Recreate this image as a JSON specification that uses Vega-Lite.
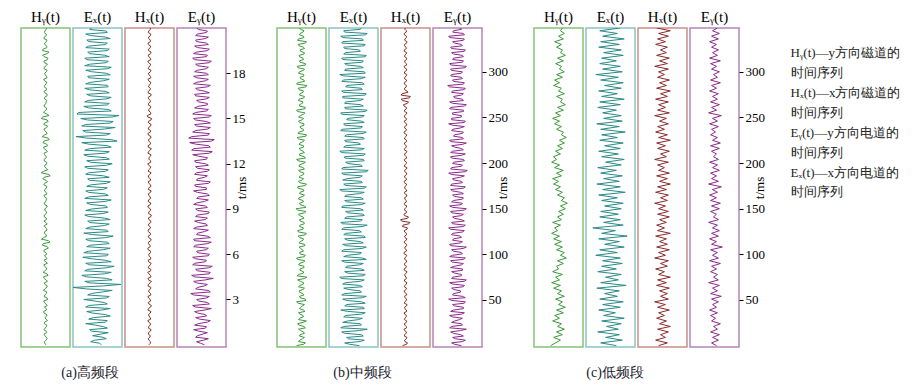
{
"$schema":"https://vega.github.io/schema/vega-lite/v6.json",
"padding":{"left":20,"top":9,"right":5,"bottom":5},
"background":"white",
"config":{"view":{"strokeWidth":1.5},"title":{"font":"Liberation Serif","fontSize":15,"fontWeight":"normal","color":"#000","offset":3}},
"data":{"name":"d"},
"datasets":{
"leg":[
{"r":1,"txt":"Hᵧ(t)—y方向磁道的"},
{"r":2,"txt":"　时间序列"},
{"r":3,"txt":"Hₓ(t)—x方向磁道的"},
{"r":4,"txt":"　时间序列"},
{"r":5,"txt":"Eᵧ(t)—y方向电道的"},
{"r":6,"txt":"　时间序列"},
{"r":7,"txt":"Eₓ(t)—x方向电道的"},
{"r":8,"txt":"　时间序列"}
],
"d":[
{"g":"a","t":0,"Hy":0.3,"Ex":4,"Hx":-0.5,"Ey":3},
{"g":"a","t":0.2,"Hy":-1.1,"Ex":-7,"Hx":1.0,"Ey":-5},
{"g":"a","t":0.4,"Hy":1.6,"Ex":9,"Hx":-1.4,"Ey":7},
{"g":"a","t":0.6,"Hy":-0.8,"Ex":-5,"Hx":0.8,"Ey":-4},
{"g":"a","t":0.8,"Hy":1.2,"Ex":11,"Hx":-1.1,"Ey":6},
{"g":"a","t":1.0,"Hy":-1.7,"Ex":-8,"Hx":1.6,"Ey":-8},
{"g":"a","t":1.2,"Hy":0.9,"Ex":6,"Hx":-0.7,"Ey":5},
{"g":"a","t":1.4,"Hy":-1.3,"Ex":-12,"Hx":1.2,"Ey":-3},
{"g":"a","t":1.6,"Hy":2.0,"Ex":10,"Hx":-1.8,"Ey":9},
{"g":"a","t":1.8,"Hy":-0.6,"Ex":-4,"Hx":0.6,"Ey":-6},
{"g":"a","t":2.0,"Hy":1.4,"Ex":8,"Hx":-1.0,"Ey":4},
{"g":"a","t":2.2,"Hy":-2.2,"Ex":-11,"Hx":1.5,"Ey":-7},
{"g":"a","t":2.4,"Hy":0.7,"Ex":13,"Hx":-0.9,"Ey":10},
{"g":"a","t":2.6,"Hy":1.8,"Ex":-9,"Hx":1.9,"Ey":-9},
{"g":"a","t":2.8,"Hy":-1.0,"Ex":7,"Hx":-1.3,"Ey":6},
{"g":"a","t":3.0,"Hy":2.3,"Ex":-14,"Hx":0.7,"Ey":-5},
{"g":"a","t":3.2,"Hy":-1.5,"Ex":12,"Hx":-1.6,"Ey":8},
{"g":"a","t":3.4,"Hy":0.8,"Ex":-6,"Hx":1.1,"Ey":-11},
{"g":"a","t":3.6,"Hy":-2.0,"Ex":15,"Hx":-0.8,"Ey":7},
{"g":"a","t":3.8,"Hy":1.1,"Ex":-25,"Hx":1.4,"Ey":-4},
{"g":"a","t":4.0,"Hy":-0.6,"Ex":24,"Hx":-1.2,"Ey":6},
{"g":"a","t":4.2,"Hy":1.9,"Ex":-13,"Hx":2.0,"Ey":-8},
{"g":"a","t":4.4,"Hy":-1.4,"Ex":9,"Hx":-1.5,"Ey":12},
{"g":"a","t":4.6,"Hy":2.6,"Ex":-16,"Hx":0.9,"Ey":-10},
{"g":"a","t":4.8,"Hy":-2.4,"Ex":14,"Hx":-1.9,"Ey":9},
{"g":"a","t":5.0,"Hy":1.3,"Ex":-10,"Hx":1.3,"Ey":-6},
{"g":"a","t":5.2,"Hy":-0.9,"Ex":17,"Hx":-0.6,"Ey":11},
{"g":"a","t":5.4,"Hy":2.0,"Ex":-12,"Hx":1.7,"Ey":-7},
{"g":"a","t":5.6,"Hy":-1.6,"Ex":8,"Hx":-1.4,"Ey":5},
{"g":"a","t":5.8,"Hy":0.5,"Ex":-15,"Hx":1.0,"Ey":-9},
{"g":"a","t":6.0,"Hy":1.2,"Ex":11,"Hx":-0.8,"Ey":8},
{"g":"a","t":6.2,"Hy":-1.9,"Ex":-9,"Hx":1.2,"Ey":-5},
{"g":"a","t":6.4,"Hy":2.9,"Ex":13,"Hx":-1.7,"Ey":7},
{"g":"a","t":6.6,"Hy":-3.2,"Ex":-7,"Hx":0.5,"Ey":-6},
{"g":"a","t":6.8,"Hy":4.6,"Ex":10,"Hx":-1.1,"Ey":10},
{"g":"a","t":7.0,"Hy":-4.1,"Ex":-12,"Hx":1.6,"Ey":-8},
{"g":"a","t":7.2,"Hy":1.0,"Ex":16,"Hx":-1.3,"Ey":6},
{"g":"a","t":7.4,"Hy":-1.2,"Ex":-14,"Hx":0.8,"Ey":-4},
{"g":"a","t":7.6,"Hy":1.5,"Ex":9,"Hx":-1.5,"Ey":7},
{"g":"a","t":7.8,"Hy":-0.4,"Ex":-8,"Hx":1.1,"Ey":-5},
{"g":"a","t":8.0,"Hy":1.8,"Ex":12,"Hx":-0.9,"Ey":5},
{"g":"a","t":8.2,"Hy":-1.6,"Ex":-10,"Hx":1.4,"Ey":-7},
{"g":"a","t":8.4,"Hy":0.7,"Ex":7,"Hx":-1.2,"Ey":6},
{"g":"a","t":8.6,"Hy":-1.1,"Ex":-13,"Hx":1.8,"Ey":-4},
{"g":"a","t":8.8,"Hy":1.3,"Ex":11,"Hx":-0.7,"Ey":8},
{"g":"a","t":9.0,"Hy":-0.8,"Ex":-6,"Hx":1.0,"Ey":-6},
{"g":"a","t":9.2,"Hy":1.7,"Ex":9,"Hx":-1.6,"Ey":4},
{"g":"a","t":9.4,"Hy":-1.4,"Ex":-11,"Hx":1.3,"Ey":-5},
{"g":"a","t":9.6,"Hy":0.6,"Ex":14,"Hx":-1.0,"Ey":7},
{"g":"a","t":9.8,"Hy":-0.9,"Ex":-9,"Hx":0.6,"Ey":-3},
{"g":"a","t":10.0,"Hy":1.5,"Ex":8,"Hx":-1.3,"Ey":6},
{"g":"a","t":10.2,"Hy":-1.2,"Ex":-12,"Hx":1.7,"Ey":-8},
{"g":"a","t":10.4,"Hy":0.9,"Ex":10,"Hx":-0.8,"Ey":5},
{"g":"a","t":10.6,"Hy":-1.7,"Ex":-7,"Hx":1.1,"Ey":-7},
{"g":"a","t":10.8,"Hy":2.1,"Ex":13,"Hx":-1.5,"Ey":9},
{"g":"a","t":11.0,"Hy":-2.8,"Ex":-10,"Hx":0.9,"Ey":-4},
{"g":"a","t":11.2,"Hy":4.8,"Ex":6,"Hx":-1.2,"Ey":6},
{"g":"a","t":11.4,"Hy":-4.4,"Ex":-9,"Hx":1.6,"Ey":-5},
{"g":"a","t":11.6,"Hy":2.2,"Ex":11,"Hx":-0.7,"Ey":8},
{"g":"a","t":11.8,"Hy":-1.0,"Ex":-13,"Hx":1.2,"Ey":-6},
{"g":"a","t":12.0,"Hy":1.4,"Ex":15,"Hx":-1.8,"Ey":4},
{"g":"a","t":12.2,"Hy":-1.5,"Ex":-11,"Hx":1.0,"Ey":-7},
{"g":"a","t":12.4,"Hy":0.8,"Ex":9,"Hx":-0.6,"Ey":6},
{"g":"a","t":12.6,"Hy":-1.0,"Ex":-14,"Hx":1.4,"Ey":-9},
{"g":"a","t":12.8,"Hy":1.9,"Ex":12,"Hx":-1.1,"Ey":11},
{"g":"a","t":13.0,"Hy":-1.3,"Ex":-8,"Hx":1.9,"Ey":-8},
{"g":"a","t":13.2,"Hy":2.4,"Ex":10,"Hx":-1.4,"Ey":7},
{"g":"a","t":13.4,"Hy":-2.6,"Ex":-16,"Hx":0.8,"Ey":-12},
{"g":"a","t":13.6,"Hy":3.9,"Ex":14,"Hx":-1.0,"Ey":13},
{"g":"a","t":13.8,"Hy":-3.3,"Ex":-22,"Hx":1.5,"Ey":-10},
{"g":"a","t":14.0,"Hy":1.6,"Ex":13,"Hx":-1.7,"Ey":8},
{"g":"a","t":14.2,"Hy":-0.9,"Ex":-15,"Hx":1.2,"Ey":-6},
{"g":"a","t":14.4,"Hy":1.2,"Ex":18,"Hx":-0.9,"Ey":9},
{"g":"a","t":14.6,"Hy":-1.8,"Ex":-12,"Hx":1.6,"Ey":-7},
{"g":"a","t":14.8,"Hy":2.7,"Ex":16,"Hx":-1.3,"Ey":5},
{"g":"a","t":15.0,"Hy":-4.3,"Ex":-17,"Hx":2.2,"Ey":-8},
{"g":"a","t":15.2,"Hy":3.6,"Ex":22,"Hx":-2.0,"Ey":10},
{"g":"a","t":15.4,"Hy":-2.1,"Ex":-19,"Hx":1.1,"Ey":-6},
{"g":"a","t":15.6,"Hy":1.0,"Ex":11,"Hx":-0.8,"Ey":7},
{"g":"a","t":15.8,"Hy":-1.4,"Ex":-14,"Hx":1.3,"Ey":-4},
{"g":"a","t":16.0,"Hy":0.6,"Ex":12,"Hx":-1.0,"Ey":6},
{"g":"a","t":16.2,"Hy":1.3,"Ex":-9,"Hx":0.7,"Ey":-5},
{"g":"a","t":16.4,"Hy":-1.0,"Ex":14,"Hx":-1.4,"Ey":8},
{"g":"a","t":16.6,"Hy":1.7,"Ex":-11,"Hx":1.8,"Ey":-7},
{"g":"a","t":16.8,"Hy":-1.5,"Ex":8,"Hx":-1.2,"Ey":4},
{"g":"a","t":17.0,"Hy":0.9,"Ex":-13,"Hx":1.0,"Ey":-6},
{"g":"a","t":17.2,"Hy":-0.7,"Ex":10,"Hx":-0.5,"Ey":9},
{"g":"a","t":17.4,"Hy":1.4,"Ex":-7,"Hx":1.3,"Ey":-5},
{"g":"a","t":17.6,"Hy":-1.9,"Ex":12,"Hx":-1.6,"Ey":7},
{"g":"a","t":17.8,"Hy":1.1,"Ex":-10,"Hx":0.9,"Ey":-8},
{"g":"a","t":18.0,"Hy":-0.8,"Ex":9,"Hx":-1.1,"Ey":5},
{"g":"a","t":18.2,"Hy":1.6,"Ex":-12,"Hx":1.5,"Ey":-4},
{"g":"a","t":18.4,"Hy":-1.2,"Ex":14,"Hx":-0.8,"Ey":7},
{"g":"a","t":18.6,"Hy":2.0,"Ex":-8,"Hx":1.2,"Ey":-6},
{"g":"a","t":18.8,"Hy":-1.7,"Ex":11,"Hx":-1.7,"Ey":10},
{"g":"a","t":19.0,"Hy":2.5,"Ex":-13,"Hx":1.0,"Ey":-9},
{"g":"a","t":19.2,"Hy":-2.9,"Ex":7,"Hx":-1.3,"Ey":6},
{"g":"a","t":19.4,"Hy":3.6,"Ex":-10,"Hx":1.6,"Ey":-5},
{"g":"a","t":19.6,"Hy":-2.4,"Ex":12,"Hx":-0.9,"Ey":8},
{"g":"a","t":19.8,"Hy":1.2,"Ex":-9,"Hx":1.1,"Ey":-7},
{"g":"a","t":20.0,"Hy":-1.0,"Ex":10,"Hx":-1.4,"Ey":5},
{"g":"a","t":20.2,"Hy":1.5,"Ex":-11,"Hx":0.8,"Ey":-6},
{"g":"a","t":20.4,"Hy":-1.3,"Ex":8,"Hx":-1.0,"Ey":7},
{"g":"a","t":20.6,"Hy":0.8,"Ex":-12,"Hx":1.3,"Ey":-4},
{"g":"a","t":20.8,"Hy":-0.6,"Ex":9,"Hx":-0.7,"Ey":6},
{"g":"a","t":21.0,"Hy":1.1,"Ex":-6,"Hx":0.9,"Ey":-5},
{"g":"a","t":0.1,"Hy":-0.7,"Ex":2,"Hx":0.9,"Ey":-1},
{"g":"a","t":0.3,"Hy":0.4,"Ex":-3,"Hx":-0.6,"Ey":2},
{"g":"a","t":0.5,"Hy":1.0,"Ex":5,"Hx":0.4,"Ey":-6},
{"g":"a","t":0.7,"Hy":-1.5,"Ex":3,"Hx":-1.2,"Ey":1},
{"g":"a","t":0.9,"Hy":0.6,"Ex":-6,"Hx":0.9,"Ey":-3},
{"g":"a","t":1.1,"Hy":-0.3,"Ex":10,"Hx":-1.0,"Ey":4},
{"g":"a","t":1.3,"Hy":1.4,"Ex":-2,"Hx":0.6,"Ey":-7},
{"g":"a","t":1.5,"Hy":-0.9,"Ex":8,"Hx":-0.8,"Ey":6},
{"g":"a","t":1.7,"Hy":0.5,"Ex":-9,"Hx":1.3,"Ey":-2},
{"g":"a","t":1.9,"Hy":1.2,"Ex":13,"Hx":-0.4,"Ey":5},
{"g":"a","t":2.1,"Hy":-1.4,"Ex":-5,"Hx":0.8,"Ey":-4},
{"g":"a","t":2.3,"Hy":0.8,"Ex":4,"Hx":-1.7,"Ey":3},
{"g":"a","t":2.5,"Hy":-1.1,"Ex":-12,"Hx":1.1,"Ey":-6},
{"g":"a","t":2.7,"Hy":0.3,"Ex":10,"Hx":-0.5,"Ey":8},
{"g":"a","t":2.9,"Hy":-1.8,"Ex":-3,"Hx":1.2,"Ey":-3},
{"g":"a","t":3.1,"Hy":1.6,"Ex":9,"Hx":-0.9,"Ey":5},
{"g":"a","t":3.3,"Hy":-0.5,"Ex":-10,"Hx":1.4,"Ey":-8},
{"g":"a","t":3.5,"Hy":1.3,"Ex":5,"Hx":-0.7,"Ey":9},
{"g":"a","t":3.7,"Hy":-0.8,"Ex":-11,"Hx":1.0,"Ey":-6},
{"g":"a","t":3.9,"Hy":1.9,"Ex":6,"Hx":-1.5,"Ey":3},
{"g":"a","t":4.1,"Hy":-1.2,"Ex":-8,"Hx":0.6,"Ey":-5},
{"g":"a","t":4.3,"Hy":0.7,"Ex":15,"Hx":-1.1,"Ey":4},
{"g":"a","t":4.5,"Hy":-2.0,"Ex":-11,"Hx":1.6,"Ey":-7},
{"g":"a","t":4.7,"Hy":1.5,"Ex":7,"Hx":-0.4,"Ey":8},
{"g":"a","t":4.9,"Hy":-0.6,"Ex":-13,"Hx":1.2,"Ey":-4},
{"g":"a","t":5.1,"Hy":0.9,"Ex":9,"Hx":-1.3,"Ey":7},
{"g":"a","t":5.3,"Hy":-1.7,"Ex":-8,"Hx":0.8,"Ey":-9},
{"g":"a","t":5.5,"Hy":0.4,"Ex":14,"Hx":-0.9,"Ey":4},
{"g":"a","t":5.7,"Hy":1.6,"Ex":-6,"Hx":1.5,"Ey":-6},
{"g":"a","t":5.9,"Hy":-1.1,"Ex":10,"Hx":-0.6,"Ey":7},
{"g":"a","t":6.1,"Hy":0.5,"Ex":-14,"Hx":1.0,"Ey":-4},
{"g":"a","t":6.3,"Hy":-0.9,"Ex":6,"Hx":-1.4,"Ey":5},
{"g":"a","t":6.5,"Hy":1.7,"Ex":-11,"Hx":0.7,"Ey":-8},
{"g":"a","t":6.7,"Hy":-2.4,"Ex":12,"Hx":-1.0,"Ey":6},
{"g":"a","t":6.9,"Hy":3.1,"Ex":-9,"Hx":1.3,"Ey":-7},
{"g":"a","t":7.1,"Hy":-1.9,"Ex":8,"Hx":-0.7,"Ey":9},
{"g":"a","t":7.3,"Hy":0.6,"Ex":-5,"Hx":1.1,"Ey":-5},
{"g":"a","t":7.5,"Hy":-0.8,"Ex":11,"Hx":-1.2,"Ey":3},
{"g":"a","t":7.7,"Hy":1.1,"Ex":-12,"Hx":0.5,"Ey":-8},
{"g":"a","t":7.9,"Hy":-1.3,"Ex":7,"Hx":-0.9,"Ey":6},
{"g":"a","t":8.1,"Hy":0.4,"Ex":-8,"Hx":1.2,"Ey":-3},
{"g":"a","t":8.3,"Hy":1.0,"Ex":13,"Hx":-0.6,"Ey":4},
{"g":"a","t":8.5,"Hy":-1.5,"Ex":-9,"Hx":1.5,"Ey":-6},
{"g":"a","t":8.7,"Hy":0.8,"Ex":6,"Hx":-1.0,"Ey":7},
{"g":"a","t":8.9,"Hy":-0.5,"Ex":-12,"Hx":0.8,"Ey":-4},
{"g":"a","t":9.1,"Hy":1.2,"Ex":10,"Hx":-1.2,"Ey":6},
{"g":"a","t":9.3,"Hy":-0.9,"Ex":-7,"Hx":0.9,"Ey":-8},
{"g":"a","t":9.5,"Hy":0.5,"Ex":8,"Hx":-1.4,"Ey":3},
{"g":"a","t":9.7,"Hy":1.3,"Ex":-13,"Hx":1.1,"Ey":-5},
{"g":"a","t":9.9,"Hy":-1.6,"Ex":11,"Hx":-0.5,"Ey":8},
{"g":"a","t":10.1,"Hy":0.7,"Ex":-9,"Hx":1.0,"Ey":-4},
{"g":"a","t":10.3,"Hy":-0.4,"Ex":6,"Hx":-1.1,"Ey":5},
{"g":"a","t":10.5,"Hy":1.4,"Ex":-11,"Hx":1.4,"Ey":-6},
{"g":"a","t":10.7,"Hy":-1.0,"Ex":9,"Hx":-0.7,"Ey":7},
{"g":"a","t":10.9,"Hy":0.6,"Ex":-8,"Hx":1.2,"Ey":-5},
{"g":"a","t":11.1,"Hy":-1.5,"Ex":12,"Hx":-1.0,"Ey":3},
{"g":"a","t":11.3,"Hy":2.8,"Ex":-12,"Hx":0.6,"Ey":-7},
{"g":"a","t":11.5,"Hy":-1.9,"Ex":8,"Hx":-1.3,"Ey":6},
{"g":"a","t":11.7,"Hy":0.9,"Ex":-10,"Hx":0.9,"Ey":-4},
{"g":"a","t":11.9,"Hy":-0.6,"Ex":9,"Hx":-0.8,"Ey":7},
{"g":"a","t":12.1,"Hy":1.1,"Ex":-7,"Hx":1.3,"Ey":-6},
{"g":"a","t":12.3,"Hy":-1.3,"Ex":12,"Hx":-0.5,"Ey":5},
{"g":"a","t":12.5,"Hy":0.5,"Ex":-10,"Hx":1.1,"Ey":-3},
{"g":"a","t":12.7,"Hy":-1.4,"Ex":8,"Hx":-1.6,"Ey":8},
{"g":"a","t":12.9,"Hy":0.8,"Ex":-13,"Hx":0.7,"Ey":-10},
{"g":"a","t":13.1,"Hy":-2.0,"Ex":14,"Hx":-1.2,"Ey":9},
{"g":"a","t":13.3,"Hy":1.1,"Ex":-9,"Hx":1.0,"Ey":-6},
{"g":"a","t":13.5,"Hy":-1.6,"Ex":20,"Hx":-0.6,"Ey":10},
{"g":"a","t":13.7,"Hy":2.6,"Ex":-11,"Hx":1.3,"Ey":-13},
{"g":"a","t":13.9,"Hy":-1.2,"Ex":9,"Hx":-1.1,"Ey":7},
{"g":"a","t":14.1,"Hy":0.8,"Ex":-12,"Hx":0.8,"Ey":-9},
{"g":"a","t":14.3,"Hy":-1.7,"Ex":7,"Hx":-1.3,"Ey":6},
{"g":"a","t":14.5,"Hy":2.1,"Ex":-16,"Hx":1.1,"Ey":-5},
{"g":"a","t":14.7,"Hy":-0.9,"Ex":13,"Hx":-0.7,"Ey":9},
{"g":"a","t":14.9,"Hy":1.8,"Ex":-10,"Hx":1.5,"Ey":-6},
{"g":"a","t":15.1,"Hy":-2.7,"Ex":15,"Hx":-1.8,"Ey":8},
{"g":"a","t":15.3,"Hy":1.3,"Ex":-21,"Hx":1.4,"Ey":-9},
{"g":"a","t":15.5,"Hy":-0.8,"Ex":14,"Hx":-0.6,"Ey":5},
{"g":"a","t":15.7,"Hy":1.0,"Ex":-9,"Hx":1.0,"Ey":-7},
{"g":"a","t":15.9,"Hy":-1.2,"Ex":10,"Hx":-1.2,"Ey":6},
{"g":"a","t":16.1,"Hy":0.6,"Ex":-13,"Hx":0.9,"Ey":-3},
{"g":"a","t":16.3,"Hy":-0.9,"Ex":9,"Hx":-0.8,"Ey":5},
{"g":"a","t":16.5,"Hy":1.5,"Ex":-7,"Hx":1.2,"Ey":-6},
{"g":"a","t":16.7,"Hy":-0.6,"Ex":12,"Hx":-1.5,"Ey":8},
{"g":"a","t":16.9,"Hy":1.1,"Ex":-8,"Hx":0.6,"Ey":-4},
{"g":"a","t":17.1,"Hy":-1.4,"Ex":11,"Hx":-1.0,"Ey":6},
{"g":"a","t":17.3,"Hy":0.7,"Ex":-12,"Hx":1.1,"Ey":-8},
{"g":"a","t":17.5,"Hy":-1.0,"Ex":6,"Hx":-0.9,"Ey":4},
{"g":"a","t":17.7,"Hy":1.6,"Ex":-9,"Hx":1.4,"Ey":-5},
{"g":"a","t":17.9,"Hy":-0.5,"Ex":13,"Hx":-0.6,"Ey":7},
{"g":"a","t":18.1,"Hy":0.9,"Ex":-6,"Hx":1.0,"Ey":-7},
{"g":"a","t":18.3,"Hy":-1.5,"Ex":10,"Hx":-1.3,"Ey":5},
{"g":"a","t":18.5,"Hy":0.6,"Ex":-13,"Hx":0.7,"Ey":-4},
{"g":"a","t":18.7,"Hy":-1.1,"Ex":9,"Hx":-1.0,"Ey":8},
{"g":"a","t":18.9,"Hy":1.9,"Ex":-11,"Hx":1.3,"Ey":-7},
{"g":"a","t":19.1,"Hy":-1.4,"Ex":12,"Hx":-0.8,"Ey":5},
{"g":"a","t":19.3,"Hy":1.7,"Ex":-8,"Hx":1.2,"Ey":-8},
{"g":"a","t":19.5,"Hy":-3.0,"Ex":10,"Hx":-1.1,"Ey":6},
{"g":"a","t":19.7,"Hy":1.4,"Ex":-12,"Hx":0.9,"Ey":-4},
{"g":"a","t":19.9,"Hy":-0.7,"Ex":8,"Hx":-1.2,"Ey":7},
{"g":"a","t":20.1,"Hy":1.0,"Ex":-9,"Hx":1.0,"Ey":-5},
{"g":"a","t":20.3,"Hy":-1.6,"Ex":13,"Hx":-0.7,"Ey":4},
{"g":"a","t":20.5,"Hy":0.9,"Ex":-7,"Hx":1.1,"Ey":-6},
{"g":"a","t":20.7,"Hy":-1.1,"Ex":10,"Hx":-1.3,"Ey":5},
{"g":"a","t":20.9,"Hy":0.5,"Ex":-8,"Hx":0.8,"Ey":-3},
{"g":"b","t":0,"Hy":-5,"Ex":6,"Hx":-3,"Ey":4},
{"g":"b","t":3,"Hy":4,"Ex":-9,"Hx":2,"Ey":-6},
{"g":"b","t":6,"Hy":-2,"Ex":11,"Hx":-1,"Ey":8},
{"g":"b","t":9,"Hy":3,"Ex":-7,"Hx":1.5,"Ey":-5},
{"g":"b","t":12,"Hy":-1.5,"Ex":8,"Hx":-0.8,"Ey":3},
{"g":"b","t":15,"Hy":2,"Ex":-12,"Hx":1,"Ey":-7},
{"g":"b","t":18,"Hy":-3,"Ex":14,"Hx":-1.5,"Ey":9},
{"g":"b","t":21,"Hy":2.5,"Ex":-10,"Hx":0.7,"Ey":-6},
{"g":"b","t":24,"Hy":-4,"Ex":7,"Hx":-1.2,"Ey":4},
{"g":"b","t":27,"Hy":5,"Ex":-6,"Hx":1.3,"Ey":-3},
{"g":"b","t":30,"Hy":-2,"Ex":9,"Hx":-0.6,"Ey":5},
{"g":"b","t":33,"Hy":1.5,"Ex":-8,"Hx":1.1,"Ey":-8},
{"g":"b","t":36,"Hy":-3,"Ex":12,"Hx":-1.4,"Ey":7},
{"g":"b","t":39,"Hy":2,"Ex":-13,"Hx":0.9,"Ey":-4},
{"g":"b","t":42,"Hy":-1,"Ex":10,"Hx":-1,"Ey":6},
{"g":"b","t":45,"Hy":3,"Ex":-7,"Hx":1.6,"Ey":-5},
{"g":"b","t":48,"Hy":-5,"Ex":8,"Hx":-0.7,"Ey":8},
{"g":"b","t":51,"Hy":4,"Ex":-11,"Hx":1.2,"Ey":-9},
{"g":"b","t":54,"Hy":-2,"Ex":13,"Hx":-1.1,"Ey":5},
{"g":"b","t":57,"Hy":1.5,"Ex":-9,"Hx":0.8,"Ey":-4},
{"g":"b","t":60,"Hy":-2.5,"Ex":7,"Hx":-1.3,"Ey":3},
{"g":"b","t":63,"Hy":3,"Ex":-10,"Hx":1,"Ey":-6},
{"g":"b","t":66,"Hy":-1.5,"Ex":6,"Hx":-0.5,"Ey":7},
{"g":"b","t":69,"Hy":2,"Ex":-8,"Hx":1.4,"Ey":-8},
{"g":"b","t":72,"Hy":-4,"Ex":11,"Hx":-1.2,"Ey":9},
{"g":"b","t":75,"Hy":5.5,"Ex":-14,"Hx":0.6,"Ey":-5},
{"g":"b","t":78,"Hy":-3,"Ex":12,"Hx":-0.9,"Ey":4},
{"g":"b","t":81,"Hy":2,"Ex":-9,"Hx":1.5,"Ey":-6},
{"g":"b","t":84,"Hy":-1.5,"Ex":8,"Hx":-1.4,"Ey":5},
{"g":"b","t":87,"Hy":2.5,"Ex":-7,"Hx":0.8,"Ey":-3},
{"g":"b","t":90,"Hy":-2,"Ex":10,"Hx":-1,"Ey":6},
{"g":"b","t":93,"Hy":3.5,"Ex":-12,"Hx":1.2,"Ey":-7},
{"g":"b","t":96,"Hy":-5,"Ex":9,"Hx":-0.7,"Ey":8},
{"g":"b","t":99,"Hy":4,"Ex":-6,"Hx":1.3,"Ey":-5},
{"g":"b","t":102,"Hy":-2,"Ex":8,"Hx":-1.5,"Ey":4},
{"g":"b","t":105,"Hy":1,"Ex":-10,"Hx":0.9,"Ey":-6},
{"g":"b","t":108,"Hy":-2.5,"Ex":13,"Hx":-0.6,"Ey":9},
{"g":"b","t":111,"Hy":3,"Ex":-11,"Hx":1.1,"Ey":-8},
{"g":"b","t":114,"Hy":-1.5,"Ex":7,"Hx":-1.2,"Ey":5},
{"g":"b","t":117,"Hy":2,"Ex":-9,"Hx":1.4,"Ey":-4},
{"g":"b","t":120,"Hy":-3.5,"Ex":11,"Hx":-0.8,"Ey":3},
{"g":"b","t":123,"Hy":5,"Ex":-8,"Hx":1,"Ey":-5},
{"g":"b","t":126,"Hy":-4,"Ex":6,"Hx":-1.3,"Ey":7},
{"g":"b","t":129,"Hy":2,"Ex":-10,"Hx":2,"Ey":-9},
{"g":"b","t":132,"Hy":-1.5,"Ex":14,"Hx":-2.5,"Ey":8},
{"g":"b","t":135,"Hy":2.5,"Ex":-13,"Hx":4.5,"Ey":-6},
{"g":"b","t":138,"Hy":-2,"Ex":9,"Hx":-5,"Ey":4},
{"g":"b","t":141,"Hy":1.5,"Ex":-7,"Hx":3,"Ey":-5},
{"g":"b","t":144,"Hy":-3,"Ex":10,"Hx":-1.5,"Ey":6},
{"g":"b","t":147,"Hy":4.5,"Ex":-8,"Hx":1,"Ey":-7},
{"g":"b","t":150,"Hy":-5.5,"Ex":7,"Hx":-0.7,"Ey":9},
{"g":"b","t":153,"Hy":3,"Ex":-11,"Hx":1.3,"Ey":-8},
{"g":"b","t":156,"Hy":-2,"Ex":12,"Hx":-1.1,"Ey":5},
{"g":"b","t":159,"Hy":1.5,"Ex":-9,"Hx":0.6,"Ey":-4},
{"g":"b","t":162,"Hy":-2.5,"Ex":8,"Hx":-1,"Ey":6},
{"g":"b","t":165,"Hy":3,"Ex":-7,"Hx":1.4,"Ey":-5},
{"g":"b","t":168,"Hy":-1.5,"Ex":11,"Hx":-1.2,"Ey":3},
{"g":"b","t":171,"Hy":2,"Ex":-14,"Hx":0.8,"Ey":-7},
{"g":"b","t":174,"Hy":-4,"Ex":13,"Hx":-0.5,"Ey":8},
{"g":"b","t":177,"Hy":5,"Ex":-10,"Hx":1.1,"Ey":-6},
{"g":"b","t":180,"Hy":-3,"Ex":8,"Hx":-1.4,"Ey":4},
{"g":"b","t":183,"Hy":2,"Ex":-6,"Hx":0.9,"Ey":-5},
{"g":"b","t":186,"Hy":-1,"Ex":9,"Hx":-0.8,"Ey":7},
{"g":"b","t":189,"Hy":2.5,"Ex":-12,"Hx":1.2,"Ey":-9},
{"g":"b","t":192,"Hy":-3,"Ex":15,"Hx":-1,"Ey":10},
{"g":"b","t":195,"Hy":1.5,"Ex":-11,"Hx":1.5,"Ey":-6},
{"g":"b","t":198,"Hy":-2,"Ex":7,"Hx":-0.6,"Ey":5},
{"g":"b","t":201,"Hy":4,"Ex":-8,"Hx":1,"Ey":-4},
{"g":"b","t":204,"Hy":-5,"Ex":10,"Hx":-1.3,"Ey":6},
{"g":"b","t":207,"Hy":3,"Ex":-9,"Hx":0.7,"Ey":-7},
{"g":"b","t":210,"Hy":-2,"Ex":12,"Hx":-1.1,"Ey":8},
{"g":"b","t":213,"Hy":1.5,"Ex":-14,"Hx":1.4,"Ey":-5},
{"g":"b","t":216,"Hy":-2.5,"Ex":11,"Hx":-0.9,"Ey":4},
{"g":"b","t":219,"Hy":2,"Ex":-8,"Hx":0.6,"Ey":-6},
{"g":"b","t":222,"Hy":-1.5,"Ex":6,"Hx":-1.2,"Ey":9},
{"g":"b","t":225,"Hy":3,"Ex":-9,"Hx":1,"Ey":-8},
{"g":"b","t":228,"Hy":-4.5,"Ex":10,"Hx":-0.7,"Ey":5},
{"g":"b","t":231,"Hy":5,"Ex":-7,"Hx":1.3,"Ey":-3},
{"g":"b","t":234,"Hy":-2.5,"Ex":13,"Hx":-1.5,"Ey":6},
{"g":"b","t":237,"Hy":2,"Ex":-12,"Hx":0.9,"Ey":-5},
{"g":"b","t":240,"Hy":-1.5,"Ex":9,"Hx":-0.8,"Ey":7},
{"g":"b","t":243,"Hy":2.5,"Ex":-10,"Hx":1.1,"Ey":-9},
{"g":"b","t":246,"Hy":-3,"Ex":8,"Hx":-1.3,"Ey":8},
{"g":"b","t":249,"Hy":2,"Ex":-6,"Hx":0.7,"Ey":-6},
{"g":"b","t":252,"Hy":-1,"Ex":11,"Hx":-1,"Ey":4},
{"g":"b","t":255,"Hy":3.5,"Ex":-13,"Hx":1.5,"Ey":-5},
{"g":"b","t":258,"Hy":-5,"Ex":14,"Hx":-1.1,"Ey":6},
{"g":"b","t":261,"Hy":4,"Ex":-9,"Hx":0.8,"Ey":-7},
{"g":"b","t":264,"Hy":-2,"Ex":7,"Hx":-2,"Ey":9},
{"g":"b","t":267,"Hy":1.5,"Ex":-8,"Hx":3,"Ey":-8},
{"g":"b","t":270,"Hy":-2.5,"Ex":10,"Hx":-4.5,"Ey":5},
{"g":"b","t":273,"Hy":3,"Ex":-11,"Hx":5,"Ey":-4},
{"g":"b","t":276,"Hy":-1.5,"Ex":13,"Hx":-3.5,"Ey":6},
{"g":"b","t":279,"Hy":2,"Ex":-12,"Hx":1.5,"Ey":-5},
{"g":"b","t":282,"Hy":-3.5,"Ex":8,"Hx":-1,"Ey":8},
{"g":"b","t":285,"Hy":5.5,"Ex":-7,"Hx":0.8,"Ey":-10},
{"g":"b","t":288,"Hy":-4,"Ex":9,"Hx":-1.2,"Ey":7},
{"g":"b","t":291,"Hy":2.5,"Ex":-10,"Hx":1.1,"Ey":-5},
{"g":"b","t":294,"Hy":-1.5,"Ex":12,"Hx":-0.6,"Ey":4},
{"g":"b","t":297,"Hy":2,"Ex":-14,"Hx":1.3,"Ey":-6},
{"g":"b","t":300,"Hy":-2,"Ex":11,"Hx":-0.9,"Ey":5},
{"g":"b","t":303,"Hy":3,"Ex":-8,"Hx":1.2,"Ey":-7},
{"g":"b","t":306,"Hy":-4.5,"Ex":7,"Hx":-1.4,"Ey":9},
{"g":"b","t":309,"Hy":4,"Ex":-9,"Hx":0.7,"Ey":-8},
{"g":"b","t":312,"Hy":-2,"Ex":10,"Hx":-1,"Ey":6},
{"g":"b","t":315,"Hy":1.5,"Ex":-12,"Hx":1.3,"Ey":-4},
{"g":"b","t":318,"Hy":-2.5,"Ex":13,"Hx":-0.8,"Ey":5},
{"g":"b","t":321,"Hy":3,"Ex":-8,"Hx":1.1,"Ey":-6},
{"g":"b","t":324,"Hy":-1.5,"Ex":6,"Hx":-1.2,"Ey":8},
{"g":"b","t":327,"Hy":2,"Ex":-10,"Hx":0.6,"Ey":-7},
{"g":"b","t":330,"Hy":-3.5,"Ex":12,"Hx":-1,"Ey":4},
{"g":"b","t":333,"Hy":5,"Ex":-11,"Hx":1.4,"Ey":-5},
{"g":"b","t":336,"Hy":-3,"Ex":9,"Hx":-0.7,"Ey":7},
{"g":"b","t":339,"Hy":2,"Ex":-13,"Hx":1,"Ey":-9},
{"g":"b","t":342,"Hy":-1.5,"Ex":14,"Hx":-1.3,"Ey":6},
{"g":"b","t":345,"Hy":2.5,"Ex":-10,"Hx":0.9,"Ey":-4},
{"g":"b","t":348,"Hy":-2,"Ex":8,"Hx":-0.6,"Ey":3},
{"g":"b","t":1.5,"Hy":2,"Ex":-4,"Hx":1,"Ey":-3},
{"g":"b","t":4.5,"Hy":-3,"Ex":7,"Hx":-0.6,"Ey":5},
{"g":"b","t":7.5,"Hy":1,"Ex":-5,"Hx":0.9,"Ey":-2},
{"g":"b","t":10.5,"Hy":-2,"Ex":10,"Hx":-1.2,"Ey":6},
{"g":"b","t":13.5,"Hy":3,"Ex":-9,"Hx":0.5,"Ey":-4},
{"g":"b","t":16.5,"Hy":-1,"Ex":6,"Hx":-0.8,"Ey":3},
{"g":"b","t":19.5,"Hy":4,"Ex":-13,"Hx":1.1,"Ey":-8},
{"g":"b","t":22.5,"Hy":-2.5,"Ex":8,"Hx":-0.7,"Ey":5},
{"g":"b","t":25.5,"Hy":1.5,"Ex":-11,"Hx":0.9,"Ey":-6},
{"g":"b","t":28.5,"Hy":-3,"Ex":5,"Hx":-1.1,"Ey":2},
{"g":"b","t":31.5,"Hy":2,"Ex":-10,"Hx":0.7,"Ey":-5},
{"g":"b","t":34.5,"Hy":-1.5,"Ex":8,"Hx":-0.9,"Ey":4},
{"g":"b","t":37.5,"Hy":3.5,"Ex":-6,"Hx":1.2,"Ey":-7},
{"g":"b","t":40.5,"Hy":-2,"Ex":11,"Hx":-0.6,"Ey":6},
{"g":"b","t":43.5,"Hy":1,"Ex":-9,"Hx":1,"Ey":-3},
{"g":"b","t":46.5,"Hy":-3.5,"Ex":12,"Hx":-1.3,"Ey":7},
{"g":"b","t":49.5,"Hy":4.5,"Ex":-7,"Hx":0.8,"Ey":-6},
{"g":"b","t":52.5,"Hy":-1.5,"Ex":9,"Hx":-0.5,"Ey":8},
{"g":"b","t":55.5,"Hy":2.5,"Ex":-12,"Hx":1.3,"Ey":-5},
{"g":"b","t":58.5,"Hy":-2,"Ex":8,"Hx":-1,"Ey":3},
{"g":"b","t":61.5,"Hy":1.5,"Ex":-5,"Hx":0.6,"Ey":-4},
{"g":"b","t":64.5,"Hy":-3,"Ex":9,"Hx":-1.2,"Ey":6},
{"g":"b","t":67.5,"Hy":2,"Ex":-11,"Hx":0.8,"Ey":-5},
{"g":"b","t":70.5,"Hy":-1,"Ex":7,"Hx":-0.9,"Ey":7},
{"g":"b","t":73.5,"Hy":3,"Ex":-12,"Hx":1.1,"Ey":-6},
{"g":"b","t":76.5,"Hy":-4.5,"Ex":10,"Hx":-0.6,"Ey":4},
{"g":"b","t":79.5,"Hy":2,"Ex":-6,"Hx":0.9,"Ey":-3},
{"g":"b","t":82.5,"Hy":-1.5,"Ex":11,"Hx":-1.1,"Ey":5},
{"g":"b","t":85.5,"Hy":2.5,"Ex":-8,"Hx":0.7,"Ey":-7},
{"g":"b","t":88.5,"Hy":-3,"Ex":6,"Hx":-1.2,"Ey":4},
{"g":"b","t":91.5,"Hy":2,"Ex":-9,"Hx":1,"Ey":-5},
{"g":"b","t":94.5,"Hy":-4,"Ex":13,"Hx":-0.8,"Ey":6},
{"g":"b","t":97.5,"Hy":3,"Ex":-10,"Hx":0.6,"Ey":-8},
{"g":"b","t":100.5,"Hy":-1.5,"Ex":7,"Hx":-1.3,"Ey":5},
{"g":"b","t":103.5,"Hy":2,"Ex":-12,"Hx":0.9,"Ey":-4},
{"g":"b","t":106.5,"Hy":-1,"Ex":9,"Hx":-0.7,"Ey":6},
{"g":"b","t":109.5,"Hy":3.5,"Ex":-8,"Hx":1.2,"Ey":-7},
{"g":"b","t":112.5,"Hy":-2.5,"Ex":10,"Hx":-1,"Ey":3},
{"g":"b","t":115.5,"Hy":1.5,"Ex":-6,"Hx":0.8,"Ey":-5},
{"g":"b","t":118.5,"Hy":-2,"Ex":12,"Hx":-0.6,"Ey":4},
{"g":"b","t":121.5,"Hy":4,"Ex":-10,"Hx":1.1,"Ey":-6},
{"g":"b","t":124.5,"Hy":-3,"Ex":8,"Hx":-0.9,"Ey":5},
{"g":"b","t":127.5,"Hy":1.5,"Ex":-12,"Hx":1.5,"Ey":-7},
{"g":"b","t":130.5,"Hy":-2,"Ex":9,"Hx":-3,"Ey":6},
{"g":"b","t":133.5,"Hy":3,"Ex":-11,"Hx":3.5,"Ey":-5},
{"g":"b","t":136.5,"Hy":-1.5,"Ex":7,"Hx":-4,"Ey":7},
{"g":"b","t":139.5,"Hy":2.5,"Ex":-9,"Hx":2,"Ey":-3},
{"g":"b","t":142.5,"Hy":-2,"Ex":11,"Hx":-1.2,"Ey":4},
{"g":"b","t":145.5,"Hy":3,"Ex":-6,"Hx":0.8,"Ey":-6},
{"g":"b","t":148.5,"Hy":-4,"Ex":10,"Hx":-1,"Ey":7},
{"g":"b","t":151.5,"Hy":4.5,"Ex":-12,"Hx":0.7,"Ey":-5},
{"g":"b","t":154.5,"Hy":-1.5,"Ex":8,"Hx":-1.2,"Ey":4},
{"g":"b","t":157.5,"Hy":2,"Ex":-7,"Hx":0.9,"Ey":-6},
{"g":"b","t":160.5,"Hy":-3,"Ex":10,"Hx":-0.5,"Ey":5},
{"g":"b","t":163.5,"Hy":1.5,"Ex":-9,"Hx":1.1,"Ey":-3},
{"g":"b","t":166.5,"Hy":-2,"Ex":6,"Hx":-0.8,"Ey":6},
{"g":"b","t":169.5,"Hy":2.5,"Ex":-12,"Hx":1.3,"Ey":-5},
{"g":"b","t":172.5,"Hy":-3.5,"Ex":11,"Hx":-0.9,"Ey":6},
{"g":"b","t":175.5,"Hy":4,"Ex":-8,"Hx":0.6,"Ey":-7},
{"g":"b","t":178.5,"Hy":-2,"Ex":9,"Hx":-1.1,"Ey":5},
{"g":"b","t":181.5,"Hy":1,"Ex":-11,"Hx":0.8,"Ey":-4},
{"g":"b","t":184.5,"Hy":-2.5,"Ex":7,"Hx":-1,"Ey":3},
{"g":"b","t":187.5,"Hy":2,"Ex":-10,"Hx":1.2,"Ey":-6},
{"g":"b","t":190.5,"Hy":-1.5,"Ex":13,"Hx":-0.7,"Ey":8},
{"g":"b","t":193.5,"Hy":3,"Ex":-12,"Hx":1,"Ey":-7},
{"g":"b","t":196.5,"Hy":-2.5,"Ex":9,"Hx":-1.3,"Ey":4},
{"g":"b","t":199.5,"Hy":1.5,"Ex":-6,"Hx":0.7,"Ey":-5},
{"g":"b","t":202.5,"Hy":-3.5,"Ex":11,"Hx":-0.9,"Ey":7},
{"g":"b","t":205.5,"Hy":4,"Ex":-9,"Hx":1.2,"Ey":-6},
{"g":"b","t":208.5,"Hy":-2,"Ex":10,"Hx":-0.6,"Ey":4},
{"g":"b","t":211.5,"Hy":3,"Ex":-12,"Hx":1,"Ey":-7},
{"g":"b","t":214.5,"Hy":-1,"Ex":8,"Hx":-1.2,"Ey":6},
{"g":"b","t":217.5,"Hy":2,"Ex":-10,"Hx":0.9,"Ey":-3},
{"g":"b","t":220.5,"Hy":-2.5,"Ex":7,"Hx":-0.7,"Ey":5},
{"g":"b","t":223.5,"Hy":1.5,"Ex":-8,"Hx":1.1,"Ey":-7},
{"g":"b","t":226.5,"Hy":-3,"Ex":11,"Hx":-1,"Ey":6},
{"g":"b","t":229.5,"Hy":4.5,"Ex":-9,"Hx":0.8,"Ey":-4},
{"g":"b","t":232.5,"Hy":-3.5,"Ex":10,"Hx":-1.1,"Ey":5},
{"g":"b","t":235.5,"Hy":2,"Ex":-13,"Hx":0.6,"Ey":-6},
{"g":"b","t":238.5,"Hy":-1,"Ex":8,"Hx":-0.9,"Ey":3},
{"g":"b","t":241.5,"Hy":2.5,"Ex":-9,"Hx":1.3,"Ey":-5},
{"g":"b","t":244.5,"Hy":-2,"Ex":11,"Hx":-0.8,"Ey":7},
{"g":"b","t":247.5,"Hy":1,"Ex":-7,"Hx":1,"Ey":-6},
{"g":"b","t":250.5,"Hy":-3,"Ex":9,"Hx":-1.2,"Ey":4},
{"g":"b","t":253.5,"Hy":2,"Ex":-12,"Hx":0.7,"Ey":-5},
{"g":"b","t":256.5,"Hy":-4,"Ex":12,"Hx":-0.9,"Ey":6},
{"g":"b","t":259.5,"Hy":3.5,"Ex":-8,"Hx":1.1,"Ey":-8},
{"g":"b","t":262.5,"Hy":-2,"Ex":10,"Hx":-1.4,"Ey":7},
{"g":"b","t":265.5,"Hy":1,"Ex":-9,"Hx":2,"Ey":-5},
{"g":"b","t":268.5,"Hy":-3,"Ex":7,"Hx":-3,"Ey":6},
{"g":"b","t":271.5,"Hy":2.5,"Ex":-11,"Hx":4,"Ey":-3},
{"g":"b","t":274.5,"Hy":-2,"Ex":12,"Hx":-4.5,"Ey":4},
{"g":"b","t":277.5,"Hy":1.5,"Ex":-10,"Hx":2.5,"Ey":-6},
{"g":"b","t":280.5,"Hy":-2.5,"Ex":9,"Hx":-1,"Ey":7},
{"g":"b","t":283.5,"Hy":4.5,"Ex":-8,"Hx":0.9,"Ey":-8},
{"g":"b","t":286.5,"Hy":-5,"Ex":11,"Hx":-1.1,"Ey":6},
{"g":"b","t":289.5,"Hy":3,"Ex":-12,"Hx":0.8,"Ey":-4},
{"g":"b","t":292.5,"Hy":-1,"Ex":8,"Hx":-1,"Ey":5},
{"g":"b","t":295.5,"Hy":2.5,"Ex":-10,"Hx":0.7,"Ey":-7},
{"g":"b","t":298.5,"Hy":-3,"Ex":12,"Hx":-1.2,"Ey":4},
{"g":"b","t":301.5,"Hy":2,"Ex":-9,"Hx":1,"Ey":-6},
{"g":"b","t":304.5,"Hy":-3.5,"Ex":10,"Hx":-0.8,"Ey":8},
{"g":"b","t":307.5,"Hy":4,"Ex":-7,"Hx":1.2,"Ey":-7},
{"g":"b","t":310.5,"Hy":-1.5,"Ex":9,"Hx":-0.6,"Ey":5},
{"g":"b","t":313.5,"Hy":2,"Ex":-11,"Hx":1.1,"Ey":-5},
{"g":"b","t":316.5,"Hy":-2,"Ex":12,"Hx":-0.9,"Ey":6},
{"g":"b","t":319.5,"Hy":2.5,"Ex":-10,"Hx":0.7,"Ey":-4},
{"g":"b","t":322.5,"Hy":-1,"Ex":7,"Hx":-1.3,"Ey":7},
{"g":"b","t":325.5,"Hy":3,"Ex":-9,"Hx":0.9,"Ey":-6},
{"g":"b","t":328.5,"Hy":-2.5,"Ex":11,"Hx":-1,"Ey":5},
{"g":"b","t":331.5,"Hy":4,"Ex":-12,"Hx":1.2,"Ey":-3},
{"g":"b","t":334.5,"Hy":-4,"Ex":10,"Hx":-0.7,"Ey":6},
{"g":"b","t":337.5,"Hy":2.5,"Ex":-11,"Hx":1,"Ey":-8},
{"g":"b","t":340.5,"Hy":-2,"Ex":12,"Hx":-1.1,"Ey":7},
{"g":"b","t":343.5,"Hy":1.5,"Ex":-9,"Hx":0.8,"Ey":-5},
{"g":"b","t":346.5,"Hy":-1,"Ex":7,"Hx":-0.5,"Ey":4},
{"g":"c","t":0,"Hy":-8,"Ex":6,"Hx":-4,"Ey":2},
{"g":"c","t":3,"Hy":-3,"Ex":-10,"Hx":5,"Ey":-3},
{"g":"c","t":6,"Hy":2,"Ex":12,"Hx":-7,"Ey":4},
{"g":"c","t":9,"Hy":-5,"Ex":-5,"Hx":3,"Ey":-2},
{"g":"c","t":12,"Hy":4,"Ex":9,"Hx":-2,"Ey":5},
{"g":"c","t":15,"Hy":-2,"Ex":-13,"Hx":6,"Ey":-4},
{"g":"c","t":18,"Hy":6,"Ex":8,"Hx":-5,"Ey":3},
{"g":"c","t":21,"Hy":-1,"Ex":-4,"Hx":8,"Ey":-1},
{"g":"c","t":24,"Hy":3,"Ex":11,"Hx":-3,"Ey":6},
{"g":"c","t":27,"Hy":-6,"Ex":-9,"Hx":4,"Ey":-3},
{"g":"c","t":30,"Hy":1,"Ex":14,"Hx":-6,"Ey":1},
{"g":"c","t":33,"Hy":-4,"Ex":-7,"Hx":2,"Ey":-4},
{"g":"c","t":36,"Hy":5,"Ex":5,"Hx":-4,"Ey":3},
{"g":"c","t":39,"Hy":-2,"Ex":-12,"Hx":7,"Ey":-5},
{"g":"c","t":42,"Hy":7,"Ex":10,"Hx":-5,"Ey":2},
{"g":"c","t":45,"Hy":0,"Ex":-8,"Hx":3,"Ey":-2},
{"g":"c","t":48,"Hy":4,"Ex":13,"Hx":-8,"Ey":4},
{"g":"c","t":51,"Hy":-3,"Ex":-11,"Hx":6,"Ey":-3},
{"g":"c","t":54,"Hy":6,"Ex":7,"Hx":-2,"Ey":7},
{"g":"c","t":57,"Hy":-1,"Ex":-6,"Hx":5,"Ey":-4},
{"g":"c","t":60,"Hy":3,"Ex":9,"Hx":-3,"Ey":3},
{"g":"c","t":63,"Hy":-5,"Ex":-14,"Hx":7,"Ey":-2},
{"g":"c","t":66,"Hy":2,"Ex":16,"Hx":-6,"Ey":5},
{"g":"c","t":69,"Hy":-7,"Ex":-10,"Hx":4,"Ey":-6},
{"g":"c","t":72,"Hy":1,"Ex":8,"Hx":-5,"Ey":4},
{"g":"c","t":75,"Hy":-3,"Ex":-5,"Hx":8,"Ey":-1},
{"g":"c","t":78,"Hy":4,"Ex":11,"Hx":-4,"Ey":3},
{"g":"c","t":81,"Hy":-6,"Ex":-13,"Hx":2,"Ey":-4},
{"g":"c","t":84,"Hy":0,"Ex":6,"Hx":-7,"Ey":2},
{"g":"c","t":87,"Hy":-2,"Ex":-9,"Hx":5,"Ey":-3},
{"g":"c","t":90,"Hy":5,"Ex":12,"Hx":-2,"Ey":6},
{"g":"c","t":93,"Hy":-1,"Ex":-8,"Hx":6,"Ey":-5},
{"g":"c","t":96,"Hy":8,"Ex":10,"Hx":-8,"Ey":4},
{"g":"c","t":99,"Hy":2,"Ex":-15,"Hx":3,"Ey":-2},
{"g":"c","t":102,"Hy":6,"Ex":7,"Hx":-4,"Ey":3},
{"g":"c","t":105,"Hy":-2,"Ex":-11,"Hx":7,"Ey":-4},
{"g":"c","t":108,"Hy":4,"Ex":14,"Hx":-6,"Ey":8},
{"g":"c","t":111,"Hy":-4,"Ex":-6,"Hx":5,"Ey":-3},
{"g":"c","t":114,"Hy":3,"Ex":9,"Hx":-3,"Ey":2},
{"g":"c","t":117,"Hy":-5,"Ex":-12,"Hx":4,"Ey":-5},
{"g":"c","t":120,"Hy":1,"Ex":17,"Hx":-7,"Ey":4},
{"g":"c","t":123,"Hy":-7,"Ex":-9,"Hx":8,"Ey":-3},
{"g":"c","t":126,"Hy":-1,"Ex":5,"Hx":-5,"Ey":5},
{"g":"c","t":129,"Hy":-4,"Ex":-18,"Hx":2,"Ey":-2},
{"g":"c","t":132,"Hy":2,"Ex":13,"Hx":-6,"Ey":3},
{"g":"c","t":135,"Hy":-6,"Ex":-7,"Hx":4,"Ey":-6},
{"g":"c","t":138,"Hy":3,"Ex":10,"Hx":-3,"Ey":4},
{"g":"c","t":141,"Hy":-1,"Ex":-11,"Hx":7,"Ey":-1},
{"g":"c","t":144,"Hy":5,"Ex":8,"Hx":-5,"Ey":2},
{"g":"c","t":147,"Hy":0,"Ex":-10,"Hx":6,"Ey":-4},
{"g":"c","t":150,"Hy":7,"Ex":11,"Hx":-4,"Ey":5},
{"g":"c","t":153,"Hy":2,"Ex":-6,"Hx":3,"Ey":-3},
{"g":"c","t":156,"Hy":9,"Ex":13,"Hx":-8,"Ey":6},
{"g":"c","t":159,"Hy":3,"Ex":-9,"Hx":5,"Ey":-4},
{"g":"c","t":162,"Hy":6,"Ex":7,"Hx":-2,"Ey":2},
{"g":"c","t":165,"Hy":-1,"Ex":-12,"Hx":6,"Ey":-5},
{"g":"c","t":168,"Hy":4,"Ex":15,"Hx":-7,"Ey":3},
{"g":"c","t":171,"Hy":-3,"Ex":-8,"Hx":4,"Ey":-2},
{"g":"c","t":174,"Hy":2,"Ex":10,"Hx":-5,"Ey":7},
{"g":"c","t":177,"Hy":-5,"Ex":-14,"Hx":8,"Ey":-6},
{"g":"c","t":180,"Hy":0,"Ex":9,"Hx":-3,"Ey":4},
{"g":"c","t":183,"Hy":-6,"Ex":-7,"Hx":5,"Ey":-3},
{"g":"c","t":186,"Hy":3,"Ex":12,"Hx":-6,"Ey":2},
{"g":"c","t":189,"Hy":-2,"Ex":-10,"Hx":7,"Ey":-4},
{"g":"c","t":192,"Hy":5,"Ex":6,"Hx":-4,"Ey":5},
{"g":"c","t":195,"Hy":-4,"Ex":-13,"Hx":2,"Ey":-2},
{"g":"c","t":198,"Hy":1,"Ex":11,"Hx":-5,"Ey":3},
{"g":"c","t":201,"Hy":-7,"Ex":-5,"Hx":6,"Ey":-5},
{"g":"c","t":204,"Hy":-2,"Ex":14,"Hx":-8,"Ey":4},
{"g":"c","t":207,"Hy":-5,"Ex":-9,"Hx":4,"Ey":-1},
{"g":"c","t":210,"Hy":2,"Ex":8,"Hx":-2,"Ey":2},
{"g":"c","t":213,"Hy":-3,"Ex":-12,"Hx":7,"Ey":-3},
{"g":"c","t":216,"Hy":4,"Ex":10,"Hx":-5,"Ey":5},
{"g":"c","t":219,"Hy":-1,"Ex":-6,"Hx":3,"Ey":-4},
{"g":"c","t":222,"Hy":6,"Ex":13,"Hx":-6,"Ey":6},
{"g":"c","t":225,"Hy":1,"Ex":-11,"Hx":8,"Ey":-2},
{"g":"c","t":228,"Hy":8,"Ex":7,"Hx":-4,"Ey":3},
{"g":"c","t":231,"Hy":3,"Ex":-9,"Hx":5,"Ey":-4},
{"g":"c","t":234,"Hy":5,"Ex":15,"Hx":-7,"Ey":1},
{"g":"c","t":237,"Hy":-2,"Ex":-10,"Hx":2,"Ey":-3},
{"g":"c","t":240,"Hy":3,"Ex":9,"Hx":-5,"Ey":4},
{"g":"c","t":243,"Hy":-4,"Ex":-14,"Hx":6,"Ey":-5},
{"g":"c","t":246,"Hy":1,"Ex":12,"Hx":-3,"Ey":3},
{"g":"c","t":249,"Hy":-6,"Ex":-7,"Hx":4,"Ey":-2},
{"g":"c","t":252,"Hy":2,"Ex":11,"Hx":-8,"Ey":7},
{"g":"c","t":255,"Hy":-3,"Ex":-8,"Hx":7,"Ey":-6},
{"g":"c","t":258,"Hy":5,"Ex":6,"Hx":-5,"Ey":2},
{"g":"c","t":261,"Hy":-1,"Ex":-13,"Hx":3,"Ey":-3},
{"g":"c","t":264,"Hy":7,"Ex":10,"Hx":-4,"Ey":5},
{"g":"c","t":267,"Hy":2,"Ex":-11,"Hx":6,"Ey":-4},
{"g":"c","t":270,"Hy":4,"Ex":14,"Hx":-7,"Ey":3},
{"g":"c","t":273,"Hy":-2,"Ex":-9,"Hx":5,"Ey":-2},
{"g":"c","t":276,"Hy":6,"Ex":7,"Hx":-2,"Ey":4},
{"g":"c","t":279,"Hy":0,"Ex":-12,"Hx":8,"Ey":-5},
{"g":"c","t":282,"Hy":3,"Ex":11,"Hx":-6,"Ey":2},
{"g":"c","t":285,"Hy":-5,"Ex":-6,"Hx":4,"Ey":-3},
{"g":"c","t":288,"Hy":1,"Ex":13,"Hx":-3,"Ey":6},
{"g":"c","t":291,"Hy":-4,"Ex":-10,"Hx":7,"Ey":-4},
{"g":"c","t":294,"Hy":4,"Ex":8,"Hx":-5,"Ey":3},
{"g":"c","t":297,"Hy":-2,"Ex":-15,"Hx":2,"Ey":-1},
{"g":"c","t":300,"Hy":6,"Ex":12,"Hx":-4,"Ey":5},
{"g":"c","t":303,"Hy":1,"Ex":-8,"Hx":6,"Ey":-3},
{"g":"c","t":306,"Hy":3,"Ex":10,"Hx":-8,"Ey":2},
{"g":"c","t":309,"Hy":-3,"Ex":-11,"Hx":5,"Ey":-4},
{"g":"c","t":312,"Hy":5,"Ex":6,"Hx":-3,"Ey":6},
{"g":"c","t":315,"Hy":-1,"Ex":-9,"Hx":7,"Ey":-5},
{"g":"c","t":318,"Hy":7,"Ex":13,"Hx":-6,"Ey":3},
{"g":"c","t":321,"Hy":2,"Ex":-7,"Hx":4,"Ey":-2},
{"g":"c","t":324,"Hy":4,"Ex":11,"Hx":-2,"Ey":4},
{"g":"c","t":327,"Hy":-2,"Ex":-12,"Hx":5,"Ey":-3},
{"g":"c","t":330,"Hy":3,"Ex":9,"Hx":-7,"Ey":2},
{"g":"c","t":333,"Hy":-4,"Ex":-10,"Hx":3,"Ey":-5},
{"g":"c","t":336,"Hy":5,"Ex":14,"Hx":-5,"Ey":4},
{"g":"c","t":339,"Hy":0,"Ex":-8,"Hx":6,"Ey":-3},
{"g":"c","t":342,"Hy":6,"Ex":7,"Hx":-4,"Ey":5},
{"g":"c","t":345,"Hy":2,"Ex":-11,"Hx":8,"Ey":-2},
{"g":"c","t":348,"Hy":4,"Ex":10,"Hx":-6,"Ey":3}
]},
"spacing":27,
"hconcat":[
{"title":{"text":"(a)高频段","orient":"bottom","anchor":"start","dx":41,"offset":18,"font":"Liberation Serif","fontSize":14,"color":"#1a1a2e"},
 "spacing":1,
 "hconcat":[
 {"width":49,"height":319,"title":"Hᵧ(t)","view":{"stroke":"#86c17a"},"transform":[{"filter":"datum.g==='a'"}],"mark":{"type":"line","color":"#3a9a3a","strokeWidth":1,"clip":true},"encoding":{"x":{"field":"Hy","type":"quantitative","scale":{"domain":[-25,25]},"axis":null},"y":{"field":"t","type":"quantitative","scale":{"domain":[-0.15,21],"nice":false,"zero":false},"axis":null},"order":{"field":"t"}}},
 {"width":49,"height":319,"title":"Eₓ(t)","view":{"stroke":"#8cc3c3"},"transform":[{"filter":"datum.g==='a'"}],"mark":{"type":"line","color":"#2a8a88","strokeWidth":1,"clip":true},"encoding":{"x":{"field":"Ex","type":"quantitative","scale":{"domain":[-25,25]},"axis":null},"y":{"field":"t","type":"quantitative","scale":{"domain":[-0.15,21],"nice":false,"zero":false},"axis":null},"order":{"field":"t"}}},
 {"width":49,"height":319,"title":"Hₓ(t)","view":{"stroke":"#c98f8a"},"transform":[{"filter":"datum.g==='a'"}],"mark":{"type":"line","color":"#8b2b2b","strokeWidth":1,"clip":true},"encoding":{"x":{"field":"Hx","type":"quantitative","scale":{"domain":[-25,25]},"axis":null},"y":{"field":"t","type":"quantitative","scale":{"domain":[-0.15,21],"nice":false,"zero":false},"axis":null},"order":{"field":"t"}}},
 {"width":49,"height":319,"title":"Eᵧ(t)","view":{"stroke":"#b386b6"},"transform":[{"filter":"datum.g==='a'"}],"mark":{"type":"line","color":"#8b2a8b","strokeWidth":1,"clip":true},"encoding":{"x":{"field":"Ey","type":"quantitative","scale":{"domain":[-25,25]},"axis":null},"y":{"field":"t","type":"quantitative","scale":{"domain":[-0.15,21],"nice":false,"zero":false},"axis":{"orient":"right","values":[3,6,9,12,15,18],"domain":false,"grid":false,"tickColor":"#000","tickSize":4,"labelFont":"Liberation Serif","labelFontSize":13,"labelColor":"#000","labelPadding":2,"title":"t/ms","titleFont":"Liberation Serif","titleFontSize":13,"titleFontWeight":"normal","titleColor":"#000","titleAngle":270,"titlePadding":3}},"order":{"field":"t"}}}
 ]},
{"spacing":22,
 "hconcat":[
 {"title":{"text":"(b)中频段","orient":"bottom","anchor":"start","dx":57,"offset":18,"font":"Liberation Serif","fontSize":14,"color":"#1a1a2e"},
  "spacing":1,
  "hconcat":[
  {"width":49,"height":319,"title":"Hᵧ(t)","view":{"stroke":"#86c17a"},"transform":[{"filter":"datum.g==='b'"}],"mark":{"type":"line","color":"#3a9a3a","strokeWidth":1,"clip":true},"encoding":{"x":{"field":"Hy","type":"quantitative","scale":{"domain":[-25,25]},"axis":null},"y":{"field":"t","type":"quantitative","scale":{"domain":[-1.5,348],"nice":false,"zero":false},"axis":null},"order":{"field":"t"}}},
  {"width":49,"height":319,"title":"Eₓ(t)","view":{"stroke":"#8cc3c3"},"transform":[{"filter":"datum.g==='b'"}],"mark":{"type":"line","color":"#2a8a88","strokeWidth":1,"clip":true},"encoding":{"x":{"field":"Ex","type":"quantitative","scale":{"domain":[-25,25]},"axis":null},"y":{"field":"t","type":"quantitative","scale":{"domain":[-1.5,348],"nice":false,"zero":false},"axis":null},"order":{"field":"t"}}},
  {"width":49,"height":319,"title":"Hₓ(t)","view":{"stroke":"#c98f8a"},"transform":[{"filter":"datum.g==='b'"}],"mark":{"type":"line","color":"#8b2b2b","strokeWidth":1,"clip":true},"encoding":{"x":{"field":"Hx","type":"quantitative","scale":{"domain":[-25,25]},"axis":null},"y":{"field":"t","type":"quantitative","scale":{"domain":[-1.5,348],"nice":false,"zero":false},"axis":null},"order":{"field":"t"}}},
  {"width":49,"height":319,"title":"Eᵧ(t)","view":{"stroke":"#b386b6"},"transform":[{"filter":"datum.g==='b'"}],"mark":{"type":"line","color":"#8b2a8b","strokeWidth":1,"clip":true},"encoding":{"x":{"field":"Ey","type":"quantitative","scale":{"domain":[-25,25]},"axis":null},"y":{"field":"t","type":"quantitative","scale":{"domain":[-1.5,348],"nice":false,"zero":false},"axis":{"orient":"right","values":[50,100,150,200,250,300],"domain":false,"grid":false,"tickColor":"#000","tickSize":4,"labelFont":"Liberation Serif","labelFontSize":13,"labelColor":"#000","labelPadding":2,"title":"t/ms","titleFont":"Liberation Serif","titleFontSize":13,"titleFontWeight":"normal","titleColor":"#000","titleAngle":270,"titlePadding":2}},"order":{"field":"t"}}}
  ]},
 {"title":{"text":"(c)低频段","orient":"bottom","anchor":"start","dx":53,"offset":18,"font":"Liberation Serif","fontSize":14,"color":"#1a1a2e"},
  "spacing":1,
  "hconcat":[
  {"width":49,"height":319,"title":"Hᵧ(t)","view":{"stroke":"#86c17a"},"transform":[{"filter":"datum.g==='c'"}],"mark":{"type":"line","color":"#3a9a3a","strokeWidth":1,"clip":true},"encoding":{"x":{"field":"Hy","type":"quantitative","scale":{"domain":[-25,25]},"axis":null},"y":{"field":"t","type":"quantitative","scale":{"domain":[-1.5,348],"nice":false,"zero":false},"axis":null},"order":{"field":"t"}}},
  {"width":49,"height":319,"title":"Eₓ(t)","view":{"stroke":"#8cc3c3"},"transform":[{"filter":"datum.g==='c'"}],"mark":{"type":"line","color":"#2a8a88","strokeWidth":1,"clip":true},"encoding":{"x":{"field":"Ex","type":"quantitative","scale":{"domain":[-25,25]},"axis":null},"y":{"field":"t","type":"quantitative","scale":{"domain":[-1.5,348],"nice":false,"zero":false},"axis":null},"order":{"field":"t"}}},
  {"width":49,"height":319,"title":"Hₓ(t)","view":{"stroke":"#c98f8a"},"transform":[{"filter":"datum.g==='c'"}],"mark":{"type":"line","color":"#8b2b2b","strokeWidth":1,"clip":true},"encoding":{"x":{"field":"Hx","type":"quantitative","scale":{"domain":[-25,25]},"axis":null},"y":{"field":"t","type":"quantitative","scale":{"domain":[-1.5,348],"nice":false,"zero":false},"axis":null},"order":{"field":"t"}}},
  {"width":49,"height":319,"title":"Eᵧ(t)","view":{"stroke":"#b386b6"},"transform":[{"filter":"datum.g==='c'"}],"mark":{"type":"line","color":"#8b2a8b","strokeWidth":1,"clip":true},"encoding":{"x":{"field":"Ey","type":"quantitative","scale":{"domain":[-25,25]},"axis":null},"y":{"field":"t","type":"quantitative","scale":{"domain":[-1.5,348],"nice":false,"zero":false},"axis":{"orient":"right","values":[50,100,150,200,250,300],"domain":false,"grid":false,"tickColor":"#000","tickSize":4,"labelFont":"Liberation Serif","labelFontSize":13,"labelColor":"#000","labelPadding":2,"title":"t/ms","titleFont":"Liberation Serif","titleFontSize":13,"titleFontWeight":"normal","titleColor":"#000","titleAngle":270,"titlePadding":2}},"order":{"field":"t"}}}
  ]},
 {"width":125,"height":319,"view":{"stroke":null},"data":{"name":"leg"},
  "mark":{"type":"text","align":"left","baseline":"middle","font":"Liberation Serif","fontSize":13,"color":"#222"},
  "encoding":{
   "x":{"datum":0,"type":"quantitative","scale":{"domain":[0.1,1.1]},"axis":null},
   "y":{"field":"r","type":"quantitative","scale":{"domain":[-0.25,15.75],"reverse":true,"nice":false,"zero":false},"axis":null},
   "text":{"field":"txt"}
  }}
 ]}
]
}
